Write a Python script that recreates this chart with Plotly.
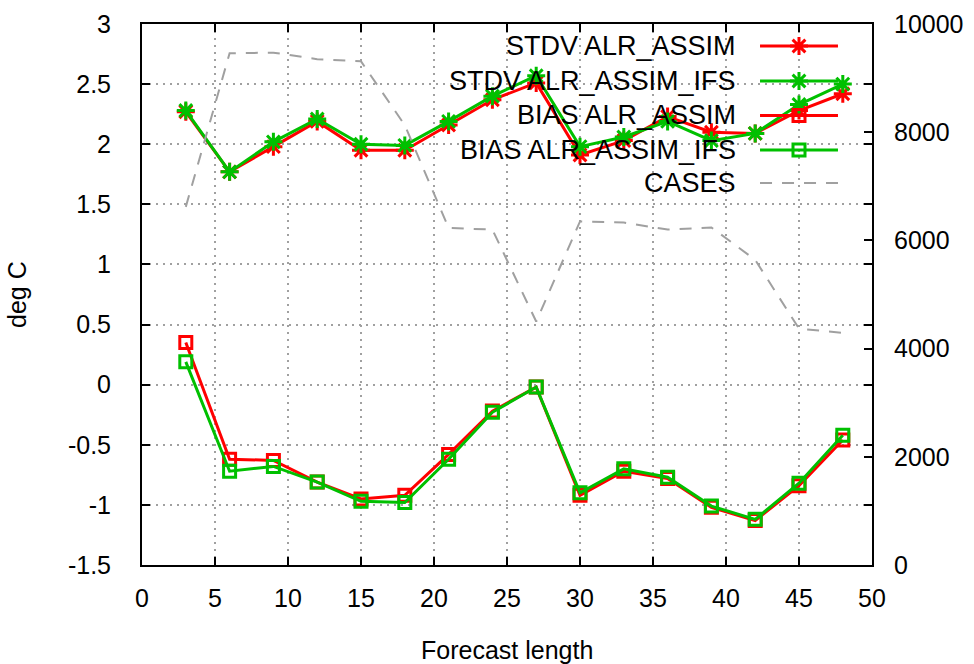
import plotly.graph_objects as go

# ---- data ----
forecast_length = [3, 6, 9, 12, 15, 18, 21, 24, 27, 30, 33, 36, 39, 42, 45, 48]
stdv_alr_assim = [2.27, 1.77, 1.98, 2.19, 1.95, 1.95, 2.16, 2.37, 2.51, 1.91, 2.03, 2.23, 2.10, 2.09, 2.28, 2.42]
stdv_alr_assim_ifs = [2.28, 1.77, 2.02, 2.21, 2.00, 1.99, 2.19, 2.40, 2.57, 1.98, 2.06, 2.19, 2.03, 2.09, 2.33, 2.50]
bias_alr_assim = [0.35, -0.62, -0.63, -0.81, -0.95, -0.92, -0.58, -0.22, -0.02, -0.92, -0.72, -0.78, -1.02, -1.13, -0.84, -0.46]
bias_alr_assim_ifs = [0.19, -0.72, -0.68, -0.81, -0.97, -0.98, -0.62, -0.23, -0.02, -0.90, -0.70, -0.77, -1.01, -1.12, -0.82, -0.42]
cases = [6620, 9460, 9470, 9350, 9310, 8130, 6230, 6200, 4500, 6350, 6330, 6200, 6240, 5640, 4370, 4290]

series_names = ["STDV ALR_ASSIM", "STDV ALR_ASSIM_IFS", "BIAS ALR_ASSIM", "BIAS ALR_ASSIM_IFS", "CASES"]
x_ticks = [0, 5, 10, 15, 20, 25, 30, 35, 40, 45, 50]
y_ticks = [-1.5, -1, -0.5, 0, 0.5, 1, 1.5, 2, 2.5, 3]
y2_ticks = [0, 2000, 4000, 6000, 8000, 10000]

# ---- style ----
RED = "#ff0000"
GREEN = "#00c000"
GRAY = "#a0a0a0"
FONT = "Liberation Sans, Arial, sans-serif"
LW = 3

styles = [
    dict(color=RED, symbol="asterisk-open", size=15),
    dict(color=GREEN, symbol="asterisk-open", size=15),
    dict(color=RED, symbol="square-open", size=12),
    dict(color=GREEN, symbol="square-open", size=12),
]
values = [stdv_alr_assim, stdv_alr_assim_ifs, bias_alr_assim, bias_alr_assim_ifs]

fig = go.Figure()
for name, ys, st in zip(series_names[:4], values, styles):
    fig.add_trace(go.Scatter(
        x=forecast_length, y=ys, name=name, mode="lines+markers",
        line=dict(color=st["color"], width=LW),
        marker=dict(symbol=st["symbol"], size=st["size"], color=st["color"],
                    line=dict(color=st["color"], width=LW)),
        xaxis="x", yaxis="y", showlegend=False, hoverinfo="skip",
    ))

fig.add_trace(go.Scatter(
    x=forecast_length, y=cases, name=series_names[4], mode="lines",
    line=dict(color=GRAY, width=2, dash="12px,10px"),
    xaxis="x", yaxis="y2", showlegend=False, hoverinfo="skip",
))

# ---- custom gnuplot-like legend (text right, sample on the right) ----
leg_text_x = 0.8164
leg_line_x0, leg_line_x1, leg_mark_x = 0.8466, 0.9534, 0.90
leg_rows = [0.9593, 0.8946, 0.8309, 0.7671, 0.7061]
annotations = []
for i, name in enumerate(series_names):
    yy = leg_rows[i]
    annotations.append(dict(
        x=leg_text_x, y=yy, xref="paper", yref="paper", text=name,
        showarrow=False, xanchor="right", yanchor="middle",
        font=dict(family=FONT, size=27, color="black"),
    ))
    if i < 4:
        st = styles[i]
        fig.add_trace(go.Scatter(
            x=[leg_line_x0, leg_line_x1], y=[yy, yy], mode="lines",
            line=dict(color=st["color"], width=LW),
            xaxis="x3", yaxis="y3", showlegend=False, hoverinfo="skip",
        ))
        fig.add_trace(go.Scatter(
            x=[leg_mark_x], y=[yy], mode="markers",
            marker=dict(symbol=st["symbol"], size=st["size"], color=st["color"],
                        line=dict(color=st["color"], width=LW)),
            xaxis="x3", yaxis="y3", showlegend=False, hoverinfo="skip",
        ))
    else:
        fig.add_trace(go.Scatter(
            x=[leg_line_x0, leg_line_x1], y=[yy, yy], mode="lines",
            line=dict(color=GRAY, width=2, dash="12px,10px"),
            xaxis="x3", yaxis="y3", showlegend=False, hoverinfo="skip",
        ))

# axis titles
annotations.append(dict(
    x=-0.172, y=0.5, xref="paper", yref="paper", text="deg C", textangle=-90,
    showarrow=False, xanchor="center", yanchor="middle",
    font=dict(family=FONT, size=25, color="black"),
))
annotations.append(dict(
    x=0.5, y=-0.157, xref="paper", yref="paper", text="Forecast length",
    showarrow=False, xanchor="center", yanchor="middle",
    font=dict(family=FONT, size=25, color="black"),
))

fig.update_layout(
    width=974, height=664,
    margin=dict(l=142, r=102, t=24, b=99, autoexpand=False),
    paper_bgcolor="white", plot_bgcolor="white",
    font=dict(family=FONT, size=25, color="black"),
    showlegend=False,
    annotations=annotations,
    xaxis=dict(
        range=[0, 50], tickvals=x_ticks, ticktext=[str(v) for v in x_ticks],
        ticks="inside", ticklen=8, tickwidth=1.5, tickcolor="black",
        showline=True, linecolor="black", linewidth=2, mirror="ticks",
        showgrid=True, gridcolor=GRAY, gridwidth=1.5, griddash="2px,5px",
        zeroline=False, ticklabelstandoff=10, automargin=False,
    ),
    yaxis=dict(
        range=[-1.5, 3], tickvals=y_ticks, ticktext=[f"{v:g}" for v in y_ticks],
        ticks="inside", ticklen=8, tickwidth=1.5, tickcolor="black",
        showline=True, linecolor="black", linewidth=2, mirror="ticks",
        showgrid=True, gridcolor=GRAY, gridwidth=1.5, griddash="2px,5px",
        zeroline=False, ticklabelstandoff=24, automargin=False,
    ),
    yaxis2=dict(
        range=[0, 10000], tickvals=y2_ticks, ticktext=[str(v) for v in y2_ticks],
        overlaying="y", side="right", anchor="x",
        ticks="inside", ticklen=8, tickwidth=1.5, tickcolor="black",
        showline=False, showgrid=False, zeroline=False, ticklabelstandoff=21,
        automargin=False,
    ),
    xaxis3=dict(range=[0, 1], overlaying="x", visible=False, anchor="y3"),
    yaxis3=dict(range=[0, 1], overlaying="y", visible=False, anchor="x3"),
)

fig.write_html("out.html")
